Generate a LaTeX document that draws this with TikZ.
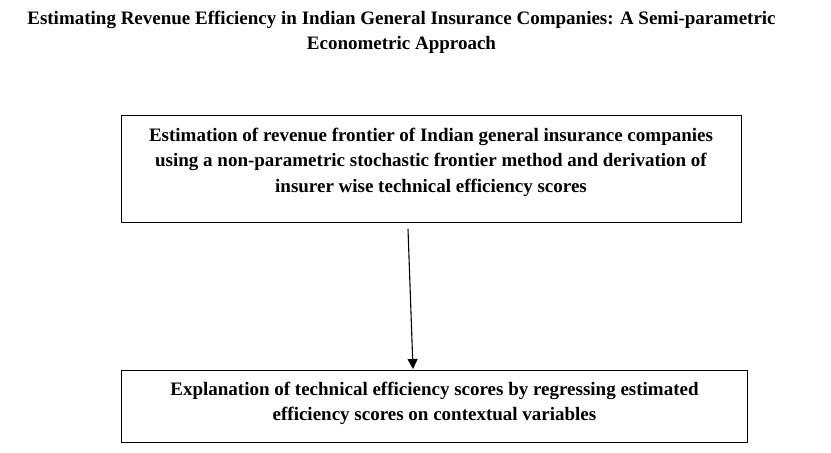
\documentclass[tikz,border=0pt]{standalone}
\usepackage{fontspec}
\setmainfont{Liberation Serif}
\usetikzlibrary{arrows.meta}
\begin{document}
\begin{tikzpicture}[x=1pt,y=-1pt,
  boxstyle/.style={draw=black,line width=1pt,inner sep=0pt},
  bodytext/.style={font=\fontsize{19}{25.5}\selectfont\bfseries,inner sep=0pt,anchor=base},
  arrowstyle/.style={-{Triangle[length=10pt,width=10pt]},line width=1.1pt}]
\useasboundingbox (0,0) rectangle (831,453);
\node[bodytext] (title1) at (401.5,24) {Estimating Revenue Efficiency in Indian General Insurance Companies: A Semi-parametric};
\node[bodytext] (title2) at (401.5,49) {Econometric Approach};
\node[boxstyle,minimum width=620pt,minimum height=107pt] (box1) at (431,168.5) {};
\node[bodytext] (t1a) at (431,141) {Estimation of revenue frontier of Indian general insurance companies};
\node[bodytext] (t1b) at (431,166.5) {using a non-parametric stochastic frontier method and derivation of};
\node[bodytext] (t1c) at (431,192) {insurer wise technical efficiency scores};
\node[boxstyle,minimum width=626pt,minimum height=72pt] (box2) at (434,406) {};
\node[bodytext] (t2a) at (434.5,395) {Explanation of technical efficiency scores by regressing estimated};
\node[bodytext] (t2b) at (434.5,420.5) {efficiency scores on contextual variables};
\coordinate (astart) at (408,229);
\coordinate (aend) at (413,369);
\draw[arrowstyle] (astart) -- (aend);
\end{tikzpicture}
\end{document}
